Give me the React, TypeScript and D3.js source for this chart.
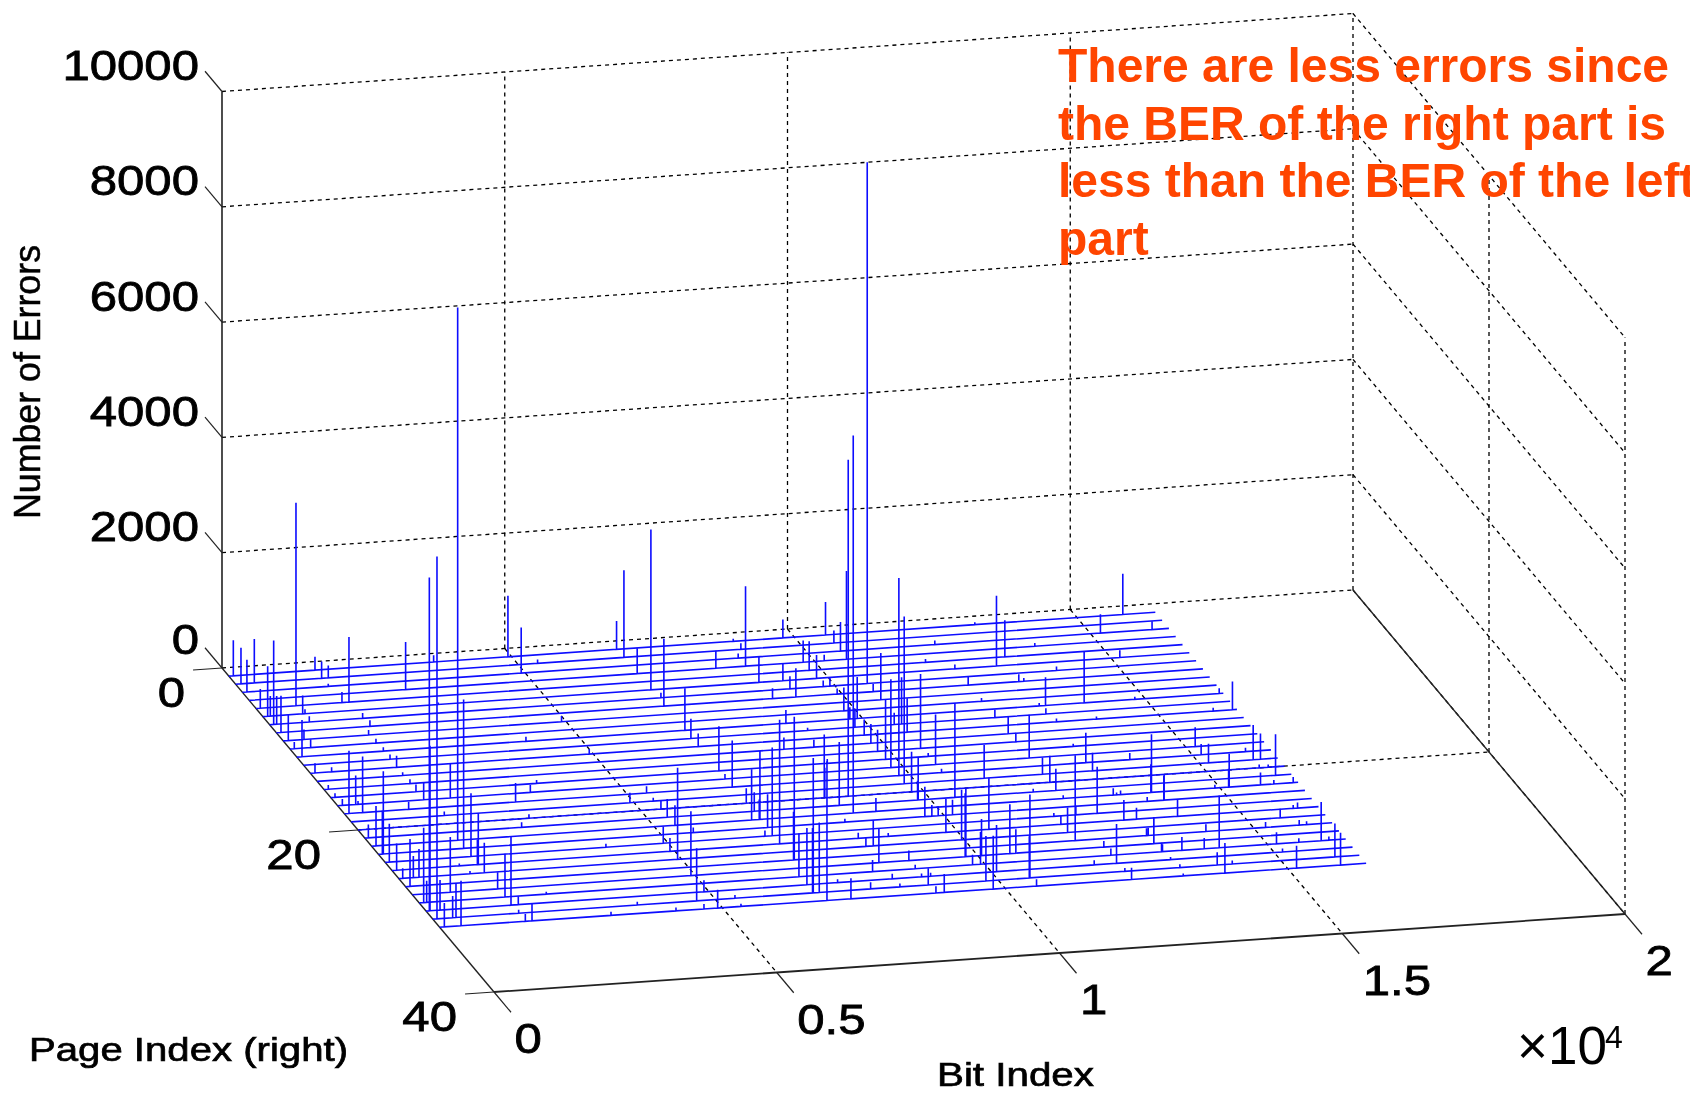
import React from "react";
import * as d3 from "d3";

const errTicks = [0, 2000, 4000, 6000, 8000, 10000];
const bitTicks = [0, 5000, 10000, 15000, 20000];
const bitTickLabels = ["0", "0.5", "1", "1.5", "2"];
const pageTicks = [0, 20, 40];
const pageCount = 32;
const bitsPerPage = 16384;
const annotationLines = [
  "There are less errors since",
  "the BER of the right part is",
  "less than the BER of the left",
  "part",
];

// [page, bit, errors]
const stemsLeft: number[][] = [
  [1,80,618],[2,95,624],[3,80,560],[2,331,763],[5,76,335],[6,86,867],[7,72,1457],[6,133,347],[7,125,491],[8,81,636],[9,90,451],[10,76,116],[5,707,3520],[11,92,636],[9,367,173],[10,365,145],[6,705,318],[6,746,75],[7,702,98],[1,1524,231],[2,1521,289],[2,1639,214],[3,1518,46],[5,1520,185],[5,1644,1127],[7,1645,92],[8,1654,104],[9,1510,87],[10,1520,75],[11,1530,69],[12,1528,81],[13,1524,202],[13,81,168],[13,375,81],[18,81,1087],[17,320,503],[18,322,971],[15,76,75],[16,74,69],[17,84,110],[17,361,58],[21,63,231],[22,78,694],[23,87,1433],[23,70,751],[24,73,665],[25,82,462],[26,69,173],[27,78,821],[26,257,376],[26,357,491],[29,79,1300],[30,59,5780],[31,74,6283],[22,1522,9242],[23,1507,2584],[17,1993,595],[28,670,959],[24,1517,1098],[25,1526,896],[25,1510,430],[26,1512,520],[28,1507,289],[29,1517,751],[30,1503,1185],[30,1632,145],[32,1516,127],[32,1634,300],[32,84,416],[32,379,780],[31,351,376],[31,410,590],[30,248,520],[29,132,376],[18,3027,329],[17,3408,127],[21,2773,87],[20,3023,69],[4,6861,439],[6,6863,2780],[8,6852,1167],[7,6920,87],[2,6867,1514],[1,6857,491],[3,4930,792],[1,4936,1058],[2,5340,69],[9,4922,98],[11,4052,81],[13,4931,87],[16,3639,58],[19,4928,173],[18,5343,116],[20,5357,145],[19,5341,58],[21,5348,318],[22,5364,347],[26,4930,1590],[24,4917,289],[25,4915,231],[24,3903,58],[29,2247,40],[31,3616,58],[32,3031,64],[32,4180,58],[31,1518,58],[26,1259,46],[25,1190,40],[16,1506,127],[17,1522,289],[18,1136,133],[14,1511,58],[15,1520,75],[19,1646,69],[1,3622,116],[6,3103,35],[30,71,2861],[4,2766,827],
];

const stemsMiddle: number[][] = [
  [4,8777,1387],[4,8252,301],[2,8935,104],[3,8767,81],[1,8920,46],[6,8773,445],[1,9798,318],[6,9197,300],[8,8773,179],[7,9201,220],[8,9186,497],[11,6863,728],[12,6849,341],[13,6858,225],[16,6863,774],[18,6858,809],[17,6850,87],[22,6720,879],[20,6866,260],[21,6887,329],[22,6867,1185],[22,6855,347],[23,6882,578],[24,6844,1532],[25,6854,2150],[11,8649,231],[14,8253,202],[27,6873,2485],[27,6860,838],[29,6715,751],[30,6736,983],[31,6728,2341],[31,6715,1127],[31,6834,1214],[32,6850,2416],[20,8245,1098],[20,8255,520],[21,8390,1098],[7,10568,9040],[22,8517,6549],[20,8669,5838],[4,10562,1532],[2,10580,214],[3,10576,503],[1,10552,572],[18,9805,3427],[19,9779,2901],[9,10568,809],[8,10553,133],[11,9910,717],[7,9908,145],[8,9916,98],[10,9794,405],[7,9790,104],[4,9796,376],[5,9782,503],[6,9792,405],[4,10168,104],[13,9793,272],[14,9791,335],[15,9789,376],[16,9810,1040],[17,9784,1532],[11,9780,202],[12,9749,318],[12,10574,809],[13,10553,590],[12,10444,202],[15,10549,1289],[20,9789,694],[21,9786,740],[21,9775,335],[23,9663,520],[23,9787,191],[23,9899,162],[25,9795,578],[23,10152,260],[21,10435,1636],[17,10574,867],[26,9952,867],[28,9787,1185],[28,9775,1100],[25,10555,896],[28,10565,855],[28,10671,416],[31,10559,1445],[31,10548,722],[29,9926,560],[28,10064,636],[31,9781,780],[32,9790,925],[30,10089,809],[29,9785,173],[32,10556,116],[32,8924,318],[32,8777,116],[31,8761,289],[30,8923,58],[30,8763,58],[29,8771,69],[28,8779,173],[31,8260,58],[30,8245,87],[29,8017,202],[28,8249,595],[26,8390,451],[26,8260,162],[25,8245,98],[25,8775,58],[31,7742,116],[32,7274,358],[30,7278,58],[32,4917,318],[31,4666,913],[28,4925,1115],[30,4915,202],[32,4675,87],[32,5329,46],[31,5343,58],[24,6715,98],[23,5568,87],[23,8249,58],[22,8918,231],[14,8783,127],[12,8912,46],[16,8779,75],
];

const stemsUpperRight: number[][] = [
  [6,12974,1220],[5,13242,636],[3,15173,329],[1,15809,705],[3,16086,145],[11,13923,896],[6,15155,127],[11,13240,491],[8,12233,145],[8,13128,127],[14,12219,289],[17,12230,751],[15,12234,156],[12,12224,133],[19,11193,578],[19,12224,289],[20,12234,462],[21,12220,376],[27,11841,1480],[18,13111,520],[19,13109,312],[24,12590,809],[18,13888,116],[22,13791,1011],[22,13780,491],[23,13889,422],[25,12942,347],[30,12211,682],[25,13165,197],[28,13111,462],[27,13102,127],[29,12231,116],[28,12227,104],[30,11816,81],[26,11826,434],[25,11828,145],[24,11824,58],[12,13126,98],[32,12236,202],[31,12238,58],[29,13144,127],[24,12213,156],[21,11820,58],[22,12230,58],[3,12244,69],[5,11839,58],[6,12238,75],[1,13192,40],[4,13892,58],[7,13915,69],[8,13217,58],[11,13128,52],[13,13193,58],[10,12228,58],[13,13900,46],[16,13128,46],[11,14819,46],[16,10564,58],[18,10559,69],
];

const stemsFarRight: number[][] = [
  [13,16305,491],[11,16311,92],[13,15964,58],[19,15950,601],[19,16079,445],[21,16105,711],[17,15165,335],[18,15150,185],[19,15160,329],[22,15165,578],[22,15155,318],[18,15934,69],[20,15936,58],[20,16095,46],[22,15719,214],[22,15955,69],[22,16297,98],[22,14912,58],[29,14147,907],[32,13887,520],[31,13871,220],[31,14137,58],[26,15586,156],[25,15936,58],[25,16013,98],[29,15950,670],[27,15802,87],[27,15932,58],[27,15207,92],[31,15952,578],[32,15932,561],[29,16086,64],[32,15154,387],[29,15555,69],[29,15160,202],[30,15146,58],[27,14152,127],[29,13882,185],[29,13487,231],[29,13127,156],[25,13891,295],[28,13112,428],[23,13895,451],[32,13150,40],[31,13211,58],[30,13166,46],[27,13132,133],[23,13595,75],[22,13115,116],[22,13244,69],[22,13174,40],
];

const allStems = [...stemsLeft, ...stemsMiddle, ...stemsUpperRight, ...stemsFarRight];

const bitDX = d3.scaleLinear().domain([0, 20000]).range([0, 1131]);
const bitDY = d3.scaleLinear().domain([0, 20000]).range([0, -78]);
const pageDX = d3.scaleLinear().domain([0, 40]).range([0, 272]);
const pageDY = d3.scaleLinear().domain([0, 40]).range([0, 324]);
const errDY = d3.scaleLinear().domain([0, 10000]).range([0, -576.5]);
const OX = 222;
const OY = 668;
const project = (b: number, p: number, z = 0): [number, number] => [
  OX + bitDX(b) + pageDX(p),
  OY + bitDY(b) + pageDY(p) + errDY(z),
];

const line = d3.line<[number, number]>();
const seg = (a: [number, number], b: [number, number]) => line([a, b]) as string;

const FONT = "'Liberation Sans', Arial, sans-serif";
const BMAX = 20000;
const PMAX = 40;
const ZMAX = 10000;

const Dashed = ({ d }: { d: string }) => (
  <path d={d} fill="none" stroke="#000" strokeWidth={1.3} strokeDasharray="4 4" />
);
const Solid = ({ d, w = 1.4 }: { d: string; w?: number }) => (
  <path d={d} fill="none" stroke="#222" strokeWidth={w} />
);

function rowPath(page: number, stems: number[][]) {
  const sorted = stems.slice().sort((a, b) => a[1] - b[1]);
  const pts: [number, number][] = [project(0, page)];
  sorted.forEach(([, bit, err]) => {
    pts.push(project(bit, page), project(bit, page, err), project(bit, page));
  });
  pts.push(project(bitsPerPage, page));
  return line(pts) as string;
}

const TickLabel = ({ x, y, anchor, children }: any) => (
  <text
    transform={`translate(${x},${y}) scale(1.17,1)`}
    textAnchor={anchor}
    fontFamily={FONT}
    fontSize={42}
    fill="#000"
    stroke="#000"
    strokeWidth={0.8}
  >
    {children}
  </text>
);

export default function App() {
  const byPage = d3.group(allStems, (s) => s[0]);
  const rows = d3.range(1, pageCount + 1);
  return (
    <svg
      width={1690}
      height={1095}
      viewBox="0 0 1690 1095"
      style={{ position: "absolute", left: 0, top: 0, background: "#fff", overflow: "hidden" }}
    >
      <defs>
        <filter id="soft" x="0" y="0" width="1" height="1" filterUnits="objectBoundingBox">
          <feGaussianBlur stdDeviation="0.35" />
        </filter>
      </defs>
      <g filter="url(#soft)">
        <rect x={0} y={0} width={1690} height={1095} fill="#fff" />
        {/* back wall */}
        {errTicks.map((z) => (
          <Dashed key={`bw${z}`} d={seg(project(0, 0, z), project(BMAX, 0, z))} />
        ))}
        {bitTicks.slice(1).map((b) => (
          <Dashed key={`bv${b}`} d={seg(project(b, 0, 0), project(b, 0, ZMAX))} />
        ))}
        {/* right wall */}
        {errTicks.map((z) => (
          <Dashed key={`rw${z}`} d={seg(project(BMAX, 0, z), project(BMAX, PMAX, z))} />
        ))}
        {pageTicks.slice(1).map((p) => (
          <Dashed key={`rv${p}`} d={seg(project(BMAX, p, 0), project(BMAX, p, ZMAX))} />
        ))}
        {/* floor */}
        {bitTicks.slice(1, -1).map((b) => (
          <Dashed key={`fb${b}`} d={seg(project(b, 0), project(b, PMAX))} />
        ))}
        <Dashed d={seg(project(0, 20), project(BMAX, 20))} />

        {/* axes */}
        <Solid d={seg(project(0, 0, 0), project(0, 0, ZMAX))} w={1.6} />
        <Solid d={seg(project(0, 0), project(0, PMAX))} />
        <Solid d={seg(project(0, PMAX), project(BMAX, PMAX))} w={1.8} />
        <Solid d={seg(project(BMAX, 0), project(BMAX, PMAX))} />
        {errTicks.map((z) => (
          <Solid key={`zt${z}`} d={seg(project(0, 0, z), project(0, -2.5, z))} w={1.2} />
        ))}
        {pageTicks.map((p) => (
          <Solid key={`pt${p}`} d={seg(project(0, p), project(-512, p))} w={1.2} />
        ))}
        {bitTicks.map((b) => (
          <Solid key={`bt${b}`} d={seg(project(b, PMAX), project(b, PMAX + 2.5))} w={1.2} />
        ))}

        {/* data */}
        {rows.map((p) => (
          <path
            key={`row${p}`}
            d={rowPath(p, byPage.get(p) || [])}
            fill="none"
            stroke="#0c0cff"
            strokeWidth={1.6}
          />
        ))}

        {/* tick labels */}
        {errTicks.map((z) => {
          const [, y] = project(0, 0, z);
          return (
            <TickLabel key={`zl${z}`} x={199} y={y - (z === 0 ? 14 : 11.5)} anchor="end">
              {z}
            </TickLabel>
          );
        })}
        {pageTicks.map((p) => {
          const [x, y] = project(0, p);
          return (
            <TickLabel key={`pl${p}`} x={x - 37} y={y + 39} anchor="end">
              {p}
            </TickLabel>
          );
        })}
        {bitTicks.map((b, i) => {
          const [x, y] = project(b, PMAX);
          return (
            <TickLabel key={`bl${b}`} x={x + 20.5} y={y + 61} anchor="start">
              {bitTickLabels[i]}
            </TickLabel>
          );
        })}

        {/* axis titles */}
        <text
          transform="translate(40,519) rotate(-90)"
          fontFamily={FONT}
          fontSize={37}
          textLength={274}
          lengthAdjust="spacingAndGlyphs"
          stroke="#000"
          strokeWidth={0.5}
        >
          Number of Errors
        </text>
        <text
          x={29}
          y={1061}
          fontFamily={FONT}
          fontSize={33}
          textLength={319}
          lengthAdjust="spacingAndGlyphs"
          stroke="#000"
          strokeWidth={0.7}
        >
          Page Index (right)
        </text>
        <text
          x={937}
          y={1086}
          fontFamily={FONT}
          fontSize={33}
          textLength={157}
          lengthAdjust="spacingAndGlyphs"
          stroke="#000"
          strokeWidth={0.7}
        >
          Bit Index
        </text>

        {/* exponent */}
        <text x={1517} y={1064} fontFamily={FONT} fontSize={53}>
          ×10
        </text>
        <text x={1605} y={1048} fontFamily={FONT} fontSize={32}>
          4
        </text>

        {/* annotation */}
        {annotationLines.map((t, i) => (
          <text
            key={i}
            x={1058}
            y={82 + i * 57.5}
            fontFamily={FONT}
            fontSize={48}
            fontWeight="bold"
            fill="#ff4500"
          >
            {t}
          </text>
        ))}
      </g>
    </svg>
  );
}
